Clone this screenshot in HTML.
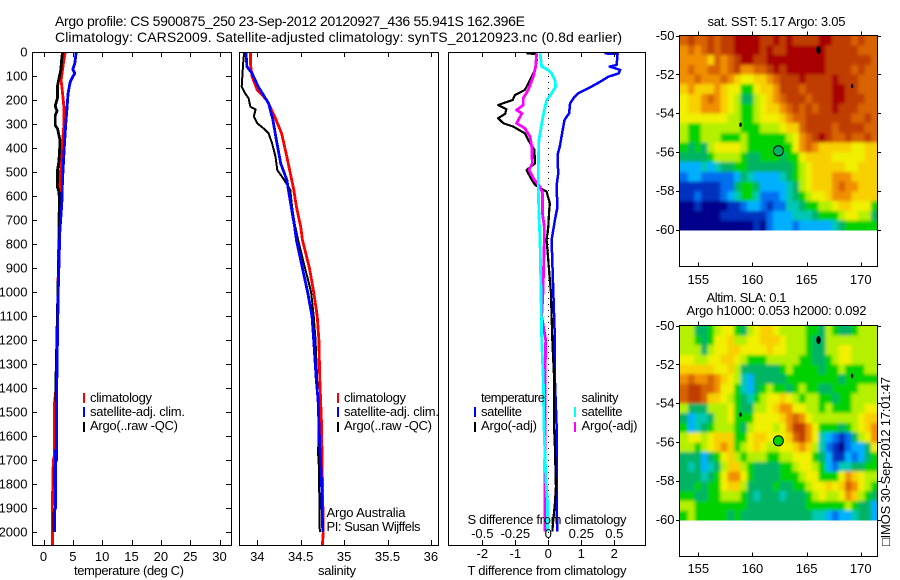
<!DOCTYPE html>
<html lang="en">
<head>
<meta charset="utf-8">
<title>Argo profile chart</title>
<style>
html,body{margin:0;padding:0;background:#fff;}
svg{display:block;}
text{font-family:"Liberation Sans",Arial,sans-serif;fill:#000;font-size:13px;}
</style>
</head>
<body>
<svg id="chart" xmlns="http://www.w3.org/2000/svg" width="900" height="580" viewBox="0 0 900 580">
<defs>
<filter id="mapBlur" filterUnits="userSpaceOnUse" x="660" y="20" width="240" height="520"><feGaussianBlur stdDeviation="1.7"/></filter>
<clipPath id="sstClip"><rect x="680" y="36" width="197" height="194.5"/></clipPath>
<clipPath id="slaClip"><rect x="680" y="326" width="197" height="194.5"/></clipPath>
</defs>
<rect x="0" y="0" width="900" height="580" fill="#fff"/>
<text x="55" y="26" style="font-size:14px" textLength="470">Argo profile: CS 5900875_250 23-Sep-2012 20120927_436 55.941S 162.396E</text>
<text x="55" y="42" style="font-size:14px" textLength="567">Climatology: CARS2009. Satellite-adjusted climatology: synTS_20120923.nc (0.8d earlier)</text>

<g id="plots"></g>

<text x="74" y="575" textLength="110">temperature (deg C)</text>
<text x="318" y="575" textLength="38">salinity</text>
<text x="467.5" y="575" textLength="159">T difference from climatology</text>
<text x="467.5" y="524" textLength="159">S difference from climatology</text>

<g>
<rect x="83" y="393" width="2" height="10" fill="#f00"/>
<rect x="83" y="407" width="2" height="10" fill="#00f"/>
<rect x="83" y="422" width="2" height="10" fill="#000"/>
<text x="90" y="402" textLength="62">climatology</text>
<text x="90" y="416" textLength="95">satellite-adj. clim.</text>
<text x="90" y="430" textLength="88">Argo(..raw -QC)</text>
</g>
<g>
<rect x="337" y="393" width="2" height="10" fill="#f00"/>
<rect x="337" y="407" width="2" height="10" fill="#00f"/>
<rect x="337" y="422" width="2" height="10" fill="#000"/>
<text x="344" y="402" textLength="62">climatology</text>
<text x="344" y="416" textLength="95">satellite-adj. clim.</text>
<text x="344" y="430" textLength="88">Argo(..raw -QC)</text>
</g>
<text x="326.5" y="517" textLength="79">Argo Australia</text>
<text x="326.5" y="531" textLength="94">PI: Susan Wijffels</text>

<g>
<text x="481" y="402" textLength="64">temperature</text>
<rect x="474" y="407" width="2" height="10" fill="#00f"/>
<rect x="474" y="422" width="2" height="10" fill="#000"/>
<text x="481" y="416" textLength="41">satellite</text>
<text x="481" y="430" textLength="56">Argo(-adj)</text>
<text x="581.5" y="402" textLength="37">salinity</text>
<rect x="574" y="407" width="2" height="10" fill="#0ff"/>
<rect x="574" y="422" width="2" height="10" fill="#f0f"/>
<text x="581.5" y="416" textLength="41">satellite</text>
<text x="581.5" y="430" textLength="56">Argo(-adj)</text>
</g>

<text x="707.5" y="26" textLength="138">sat. SST: 5.17 Argo: 3.05</text>
<text x="706.5" y="302" textLength="80">Altim. SLA: 0.1</text>
<text x="686.5" y="315" textLength="180">Argo h1000: 0.053 h2000: 0.092</text>
<text transform="translate(890,546) rotate(-90)" textLength="169">□IMOS 30-Sep-2012 17:01:47</text>
</svg>

<script>
// ---------- temperature panel data ----------
const tempClimDepths = [0,47,117,158,228,297,394,464,519,603,742,1000,1400,1460,1680,1700,1900,2054];
const tempClimValues = [3.7,3.4,3.0,3.18,3.47,3.5,3.2,3.0,2.85,2.7,2.65,2.45,2.15,1.9,1.9,1.67,1.5,1.55];
const tempSatDepths = [0,47,72,89,103,124,144,172,228,297,381,464,533,633,742,1000,1400,1650,1660,1900,1910,2000];
const tempSatValues = [5.57,5.34,5.0,5.34,5.0,4.55,4.4,4.2,4.03,3.8,3.58,3.4,3.24,3.12,2.8,2.5,2.25,2.25,2.05,2.05,1.87,1.87];
const tempArgoDepths = [0,30,75,110,140,190,225,245,265,305,320,345,365,410,460,490,560,580,620,700,1000,1400,1450,1460,1700,1730,1800,1810,1900,1920,2000];
const tempArgoValues = [3.24,3.1,2.95,2.65,2.4,2.4,2.0,2.3,2.0,2.0,2.4,2.6,2.8,2.75,2.6,2.4,2.35,2.6,2.75,2.75,2.45,2.1,2.1,2.2,2.2,1.85,1.85,2.0,2.0,1.75,1.75];
const tempTicks = [0,5,10,15,20,25,30];
const depthTicks = [0,100,200,300,400,500,600,700,800,900,1000,1100,1200,1300,1400,1500,1600,1700,1800,1900,2000];

// ---------- salinity panel data ----------
const salClimDepths = [0,47,103,158,200,269,339,436,505,575,644,728,783,900,1000,1100,1200,1367,1547,1783,2000,2054];
const salClimValues = [33.92,33.92,33.94,34.0,34.11,34.2,34.28,34.34,34.38,34.42,34.45,34.5,34.52,34.6,34.65,34.69,34.71,34.72,34.74,34.75,34.76,34.75];
const salSatDepths = [0,61,89,144,214,283,367,464,533,644,728,783,900,1000,1100,1200,1367,1450,1547,1645,1783,1950,2000];
const salSatValues = [33.87,33.88,33.94,34.01,34.13,34.18,34.22,34.27,34.34,34.39,34.43,34.45,34.52,34.58,34.63,34.65,34.68,34.7,34.71,34.72,34.74,34.75,34.755];
const salArgoDepths = [0,33,89,144,172,193,228,239,269,297,318,339,381,436,492,533,575,644,714,783,900,1000,1100,1200,1367,1547,1670,1730,2000];
const salArgoValues = [33.85,33.84,33.83,33.82,33.86,33.9,33.92,33.98,33.96,34.0,34.07,34.13,34.17,34.21,34.23,34.31,34.38,34.4,34.43,34.47,34.55,34.62,34.65,34.67,34.69,34.71,34.7,34.71,34.72];
const salTicks = [34,34.5,35,35.5,36];

// ---------- difference panel data ----------
const tDiffSatDepths = [6,8,54,61,75,89,103,124,144,158,172,193,214,256,283,353,394,429,506,561,644,700,783,1000,1200,1367,1547,1783,1998];
const tDiffSatValues = [1.7,2.1,2.07,1.86,2.18,2.13,1.82,1.57,1.31,1.11,0.91,0.76,0.66,0.63,0.49,0.4,0.35,0.28,0.3,0.25,0.28,0.2,0.1,0.15,0.2,0.2,0.25,0.25,0.27];
const tDiffArgoDepths = [6,8,33,75,110,158,179,200,221,238,258,276,297,311,339,367,408,464,492,526,554,582,631,672,728,783,1000,1200,1367,1547,1645,1812,1880,1950,1998];
const tDiffArgoValues = [-0.66,-0.38,-0.35,-0.4,-0.53,-0.71,-1.01,-1.08,-1.52,-1.27,-1.31,-1.52,-1.36,-1.06,-0.71,-0.61,-0.42,-0.4,-0.66,-0.53,-0.4,-0.05,0.05,0.02,0,-0.05,0.08,0.12,0.18,0.17,0.2,0.23,0.2,0.15,0.12];
const sDiffSatDepths = [6,61,75,89,117,144,172,200,242,283,367,478,575,672,783,1000,1200,1367,1547,1783,1880,1998];
const sDiffSatValues = [-0.063,-0.05,0,0.025,0.05,0.056,0.025,-0.013,-0.03,-0.045,-0.071,-0.076,-0.076,-0.071,-0.063,-0.055,-0.05,-0.038,-0.033,-0.018,-0.005,-0.005];
const sDiffArgoDepths = [6,61,103,158,193,221,242,256,297,318,353,394,464,492,533,561,589,672,728,783,1000,1100,1200,1367,1645,1820,1998];
const sDiffArgoValues = [-0.088,-0.096,-0.114,-0.152,-0.19,-0.19,-0.24,-0.2,-0.24,-0.177,-0.139,-0.126,-0.121,-0.146,-0.106,-0.063,-0.043,-0.045,-0.03,-0.03,-0.04,-0.05,-0.02,-0.025,-0.025,-0.025,-0.025];
const tDiffTicks = [-2,-1,0,1,2];
const sDiffTicks = [-0.5,-0.25,0,0.25,0.5];

// ---------- map data (colour level per grid cell, rows north to south) ----------
const sstGrid = [
[11,12,11,11,12,11,12,12,13,13,13,13,12,12,13,12,13,12,12,12,12,13,13,12,12,12,11,12,11,11],
[10,11,10,11,12,11,12,12,13,13,13,13,12,13,12,12,13,13,13,13,13,13,12,12,12,12,12,11,11,11],
[10,10,10,10,9,11,10,11,12,13,13,12,12,13,13,13,13,13,13,13,13,13,12,12,12,12,12,12,12,11],
[10,11,10,10,11,11,10,11,12,10,10,11,11,12,13,12,13,13,13,13,13,13,12,12,12,12,11,12,11,11],
[10,10,11,10,10,10,11,10,9,8,8,9,9,10,11,12,12,12,13,12,12,12,12,13,12,12,12,11,11,11],
[9,10,9,9,9,10,9,8,8,6,6,8,9,9,10,12,12,12,11,12,12,12,12,13,13,12,12,11,11,11],
[8,9,9,10,11,10,9,8,7,5,5,7,8,9,10,11,12,12,12,11,12,12,12,13,13,12,12,12,11,11],
[8,9,9,10,10,10,9,8,7,6,6,7,8,9,9,10,11,12,11,12,11,12,12,13,12,12,12,11,11,11],
[8,8,8,8,8,8,8,7,7,6,6,7,8,8,8,9,10,11,11,12,12,12,12,12,12,12,11,11,12,11],
[7,6,6,7,7,7,7,7,7,6,6,6,7,7,7,8,9,9,11,12,12,12,12,11,12,12,12,12,11,11],
[7,6,6,7,7,7,6,6,6,7,6,6,6,6,6,6,7,8,10,11,12,13,12,11,11,12,11,11,12,11],
[6,5,6,5,7,8,8,8,8,7,6,6,6,6,6,6,6,8,10,11,10,9,9,9,9,9,8,8,9,9],
[5,5,5,5,6,7,7,7,7,6,5,5,6,6,6,5,6,6,8,9,9,9,9,8,8,8,8,8,9,9],
[3,3,3,4,3,4,5,5,6,6,5,5,5,5,5,5,5,6,7,8,9,9,9,9,9,8,8,9,9,9],
[2,3,3,2,2,2,2,2,3,5,4,3,3,3,3,4,5,6,7,8,9,9,9,10,10,10,9,9,9,9],
[1,1,1,1,1,1,2,2,5,6,6,5,3,3,3,3,4,5,7,8,9,9,9,10,11,10,10,9,9,9],
[1,1,2,1,1,1,2,3,4,6,6,4,2,2,2,3,4,5,6,7,8,8,9,10,10,10,9,9,9,9],
[0,0,1,0,0,0,0,1,1,2,3,3,2,1,2,2,4,4,5,6,6,7,7,8,9,9,8,8,8,6],
[0,0,0,0,0,0,1,1,1,1,1,1,1,2,3,3,3,4,4,4,5,6,6,6,7,8,8,7,7,5],
[0,0,0,0,0,0,0,0,0,0,0,1,0,2,3,3,3,2,3,3,3,3,3,4,5,6,6,6,6,6]
];
const slaGrid = [
[7,7,5,5,6,7,8,8,6,5,7,8,9,9,8,7,7,7,7,6,6,5,7,6,5,5,6,7,7,7],
[7,7,6,5,6,8,8,9,7,7,8,8,9,9,9,8,7,7,7,6,5,5,7,7,7,7,7,7,7,7],
[7,7,7,5,7,8,8,9,9,8,8,8,8,9,8,8,7,7,7,6,5,5,7,7,8,8,7,7,7,7],
[8,8,7,7,8,8,9,9,8,7,6,6,6,7,7,7,7,7,6,6,5,5,6,7,8,8,7,7,7,7],
[9,9,9,9,9,8,8,9,7,5,5,5,5,5,5,6,7,6,6,6,6,5,6,6,7,6,6,6,7,7],
[10,11,10,10,11,10,9,8,7,4,3,5,5,5,5,5,6,6,6,6,6,6,6,6,5,6,6,6,6,6],
[11,12,12,11,11,10,8,8,6,4,3,5,6,7,6,6,5,6,7,6,6,5,5,6,6,6,6,7,7,7],
[11,12,12,11,9,9,8,7,6,5,4,6,7,8,8,9,8,7,6,7,7,6,6,5,6,6,7,7,7,7],
[7,5,5,5,7,7,7,8,6,5,5,7,7,8,9,10,10,8,8,7,7,6,7,6,6,6,7,7,8,8],
[5,3,4,4,5,7,7,8,6,6,6,8,8,8,8,9,10,11,10,8,7,7,7,7,7,7,7,8,9,9],
[6,3,4,5,6,7,7,7,6,5,7,8,8,8,7,8,10,12,12,10,8,6,6,6,5,6,7,8,9,10],
[7,8,8,7,8,9,9,9,6,6,8,9,9,8,8,8,9,11,12,10,8,4,3,2,1,2,5,7,8,10],
[7,7,6,7,8,9,10,9,6,7,8,9,8,7,7,8,8,9,10,9,7,4,2,1,0,2,3,3,5,8],
[5,5,5,3,5,6,8,9,7,6,7,7,7,6,6,7,7,8,8,8,6,5,3,1,1,3,2,3,5,6],
[5,4,5,3,4,5,7,9,9,7,6,5,5,5,5,6,6,7,8,8,7,6,3,2,4,4,5,5,6,6],
[5,5,5,4,5,6,8,10,10,8,6,5,5,5,5,6,6,6,7,8,8,6,6,6,8,10,9,8,7,7],
[5,5,6,5,6,6,8,9,9,7,5,5,5,5,6,5,5,6,6,7,8,8,9,8,9,11,10,8,7,6],
[6,6,5,5,6,6,7,7,7,6,5,4,5,5,5,4,5,5,5,6,7,8,7,7,8,10,9,7,6,5],
[7,7,6,6,6,6,6,6,6,6,5,5,5,5,5,5,5,5,5,6,6,6,6,6,6,7,6,5,5,3],
[6,7,6,6,6,6,6,5,6,5,5,5,5,5,5,5,5,5,5,5,4,4,3,2,3,3,4,5,5,3]
];
const lonTicks = [155,160,165,170];
const latTicks = [-50,-52,-54,-56,-58,-60];
const floatLon = 162.396;
const floatLat = -55.941;
const islandLons = [166.1,169.2,158.9];
const islandLats = [-50.75,-52.6,-54.6];
const sstFloatLevel = 5;
const slaFloatLevel = 6;
const levelColours = ['#00008c','#0030c0','#0070f0','#00b0ff','#00c8b4','#00b464','#00d200','#b4f000','#f0f000','#f8d000','#f09000','#d86400','#c03c00','#a80000'];

// ---------- helpers ----------
const NS = 'http://www.w3.org/2000/svg';
const plots = document.getElementById('plots');
function make(tag, attrs, parent) {
  const el = document.createElementNS(NS, tag);
  for (const k in attrs) el.setAttribute(k, attrs[k]);
  (parent || plots).appendChild(el);
  return el;
}
const top0 = 52, depthScale = 0.24;
const yDepth = d => top0 + d * depthScale;
const xTemp = v => 43.5 + v * 5.867;
const xSal = v => 257.3 + (v - 34) * 86.8;
const xTDiff = v => 548.3 + v * 33;
const xSDiff = v => 548.3 + v * 132;
const xLon = v => 698.3 + (v - 155) * 10.83;
const yLatTop = v => 35.5 + (-50 - v) * 19.4;
const yLatBottom = v => 325.5 + (-50 - v) * 19.4;

function drawLine(depths, values, xFn, colour, width, name) {
  const pts = depths.map((d, i) => xFn(values[i]).toFixed(1) + ',' + yDepth(d).toFixed(1)).join(' ');
  const el = make('polyline', {points: pts, fill: 'none', stroke: colour, 'stroke-width': width, 'shape-rendering': 'crispEdges', 'stroke-linejoin': 'round'});
  
  
}
function drawFrame(x1, y1, x2, y2, name) {
  const el = make('rect', {x: x1, y: y1, width: x2 - x1, height: y2 - y1, fill: 'none', stroke: '#000', 'stroke-width': 1, 'shape-rendering': 'crispEdges'});
  
  
}
function drawTick(x1, y1, x2, y2) {
  const el = make('line', {x1: x1, y1: y1, x2: x2, y2: y2, stroke: '#000', 'stroke-width': 1, 'shape-rendering': 'crispEdges'});
  
  
}
function drawLabel(x, y, str, anchor) {
  const el = make('text', {x: x, y: y, 'text-anchor': anchor});
  el.textContent = str;
  
  
}
function xAxisTicks(ticks, xFn, labelY) {
  ticks.forEach(t => {
    const x = Math.round(xFn(t)) + 0.5;
    drawTick(x, 52, x, 57);
    drawTick(x, 545, x, 540);
    if (labelY) drawLabel(xFn(t), labelY, String(t), 'middle');
  });
}

// ---------- profile panels ----------
drawLine(tempClimDepths, tempClimValues, xTemp, '#f00', 2.8, 'temperature-climatology-line');
drawLine(tempArgoDepths, tempArgoValues, xTemp, '#000', 2.8, 'temperature-argo-line');
drawLine(tempSatDepths, tempSatValues, xTemp, '#00f', 2.8, 'temperature-satellite-line');
drawFrame(32.5, 52.5, 231.5, 545.5, 'temperature-axes-frame');
xAxisTicks(tempTicks, xTemp, 561);
depthTicks.forEach(d => {
  const y = Math.round(yDepth(d)) + 0.5;
  drawTick(32, y, 37, y);
  drawTick(231, y, 226, y);
  drawLabel(27.5, yDepth(d) + 4.5, String(d), 'end');
});

drawLine(salClimDepths, salClimValues, xSal, '#f00', 2.8, 'salinity-climatology-line');
drawLine(salArgoDepths, salArgoValues, xSal, '#000', 2, 'salinity-argo-line');
drawLine(salSatDepths, salSatValues, xSal, '#00f', 2.8, 'salinity-satellite-line');
drawFrame(239.5, 52.5, 438.5, 545.5, 'salinity-axes-frame');
xAxisTicks(salTicks, xSal, 561);

const zeroLine = make('line', {x1: 548.5, y1: 52, x2: 548.5, y2: 545, stroke: '#000', 'stroke-width': 1, 'stroke-dasharray': '1 5', 'shape-rendering': 'crispEdges'});


drawLine(tDiffSatDepths, tDiffSatValues, xTDiff, '#00f', 2.5, 't-difference-satellite-line');
drawLine(tDiffArgoDepths, tDiffArgoValues, xTDiff, '#000', 2.2, 't-difference-argo-line');
drawLine(sDiffArgoDepths, sDiffArgoValues, xSDiff, '#f0f', 2.8, 's-difference-argo-line');
drawLine(sDiffSatDepths, sDiffSatValues, xSDiff, '#0ff', 2.8, 's-difference-satellite-line');
drawFrame(448.5, 52.5, 645.5, 545.5, 'difference-axes-frame');
xAxisTicks(tDiffTicks, xTDiff, 558);
sDiffTicks.forEach(t => drawLabel(xSDiff(t), 538, String(t), 'middle'));

// ---------- maps ----------
function drawMap(grid, yLat, frameTop, frameBottom, labelY, floatLevel, prefix) {
  const rows = grid.length, cols = grid[0].length;
  const lonA = 153.45, lonB = 171.55, latA = -50, latB = -60.05;
  const dLon = (lonB - lonA) / cols, dLat = (latB - latA) / rows;
  const clipGroup = make('g', {'clip-path': 'url(#' + prefix + 'Clip)'});
  
  
  const blurGroup = make('g', {filter: 'url(#mapBlur)'}, clipGroup);
  
  
  grid.forEach((row, r) => row.forEach((level, c) => {
    const x1 = xLon(lonA + c * dLon) - (c === 0 ? 6 : 0);
    const x2 = xLon(lonA + (c + 1) * dLon) + (c === cols - 1 ? 6 : 0);
    const y1 = yLat(latA + r * dLat) - (r === 0 ? 6 : 0);
    const y2 = yLat(latA + (r + 1) * dLat) + (r === rows - 1 ? 6 : 0);
    const cell = make('rect', {x: x1.toFixed(2), y: y1.toFixed(2), width: (x2 - x1 + 0.4).toFixed(2), height: (y2 - y1 + 0.4).toFixed(2), fill: levelColours[level], 'shape-rendering': 'crispEdges'}, blurGroup);
    
    
  }));
  islandLons.forEach((lon, i) => {
    const x = xLon(lon), y = yLat(islandLats[i]);
    const size = i === 0 ? 4 : 2.2;
    const island = make('ellipse', {cx: x.toFixed(1), cy: y.toFixed(1), rx: (size * 0.55).toFixed(1), ry: size.toFixed(1), fill: '#000'});
    
    
  });
  const marker = make('circle', {cx: xLon(floatLon).toFixed(1), cy: yLat(floatLat).toFixed(1), r: 5, fill: levelColours[floatLevel], stroke: '#000', 'stroke-width': 1});
  
  
  drawFrame(679.5, frameTop, 877.5, frameBottom, prefix + '-map-frame');
  lonTicks.forEach(t => {
    const x = Math.round(xLon(t)) + 0.5;
    drawTick(x, frameTop - 4, x, frameTop);
    drawTick(x, frameBottom, x, frameBottom - 4);
    drawLabel(xLon(t), labelY, String(t), 'middle');
  });
  latTicks.forEach(t => {
    const y = Math.round(yLat(t)) + 0.5;
    drawTick(676, y, 680, y);
    drawTick(877, y, 881, y);
    drawLabel(674.5, yLat(t) + 4.5, String(t), 'end');
  });
}
drawMap(sstGrid, yLatTop, 35.5, 266.5, 284, sstFloatLevel, 'sst');
drawMap(slaGrid, yLatBottom, 325.5, 556.5, 573, slaFloatLevel, 'sla');
</script>
</body>
</html>
